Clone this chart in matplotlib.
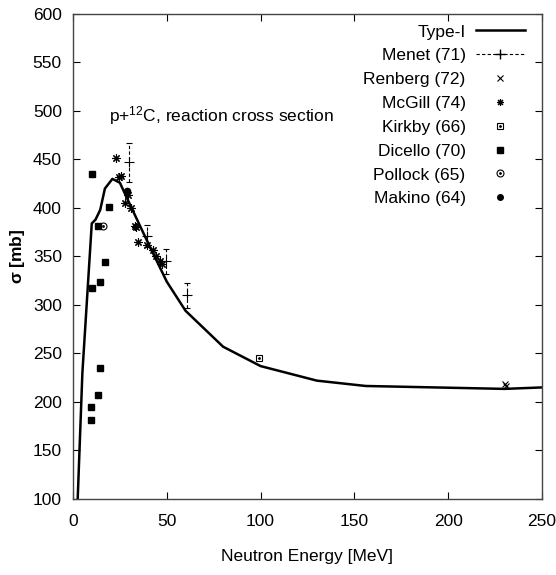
import matplotlib
matplotlib.use("Agg")
import matplotlib.pyplot as plt
from matplotlib.lines import Line2D

plt.rcParams['font.family'] = ['Liberation Sans', 'DejaVu Sans']

# Type-I model curve
type1_e = [2.5, 5, 10, 12, 14.5, 17, 21, 25, 30, 40, 50, 60, 80, 100, 130, 156, 230, 250]
type1_s = [100, 230, 384, 388, 398, 420, 430, 426, 405, 364, 324, 294, 257, 237, 222, 216.5, 213.5, 215]

# Menet (71) with errors
menet_e = [29.8, 39.6, 49.4, 60.6]
menet_s = [447, 371, 345, 310]
menet_err = [20, 11, 13, 13]

# Renberg (72)
renberg_e = [230.5, 230.8]
renberg_s = [219, 216]

# McGill (74)
mcgill_e = [22.9, 24.6, 25.8, 29.1, 27.7, 30.7, 33.0, 33.8, 34.8, 39.2, 42.6, 44.4, 46.2, 47.2]
mcgill_s = [452, 432, 433, 413, 405, 400, 381, 380, 365, 362, 357, 351, 345, 342]

# Kirkby (66)
kirkby_e = [99.1]
kirkby_s = [245]

# Dicello (70)
dicello_e = [10.3, 19.4, 13.5, 17.2, 14.6, 10.1, 14.6, 13.5, 9.8, 9.8]
dicello_s = [435, 401, 381, 344, 324, 318, 235, 207, 195, 181]

# Pollock (65)
pollock_e = [16.2]
pollock_s = [381]

# Makino (64)
makino_e = [28.6]
makino_s = [418]

fig = plt.figure(figsize=(5.56, 5.75), dpi=100)
ax = fig.add_axes([0.1313, 0.1322, 0.8435, 0.8435])

line_t, = ax.plot(type1_e, type1_s, color='black', lw=1.8)

eb = ax.errorbar(menet_e, menet_s, yerr=menet_err, fmt='+', color='black',
                 ms=7, mew=0.8, elinewidth=0.8, capsize=2.5)
eb[2][0].set_linestyle((0, (3, 2)))

ax.plot(renberg_e, renberg_s, 'x', color='black', ms=5, mew=0.8)
ax.plot(mcgill_e, mcgill_s, marker=(8, 2, 0), ls='none', color='black', ms=6, mew=0.8)
ax.plot(kirkby_e, kirkby_s, 's', mfc='none', mec='black', ms=5, mew=0.8)
ax.plot(kirkby_e, kirkby_s, '.', color='black', ms=2)
ax.plot(dicello_e, dicello_s, 's', color='black', ms=5)
ax.plot(pollock_e, pollock_s, 'o', mfc='none', mec='black', ms=5, mew=0.8)
ax.plot(pollock_e, pollock_s, '.', color='black', ms=2)
ax.plot(makino_e, makino_s, 'o', color='black', ms=4.5)

ax.set_xlim(0, 250)
ax.set_ylim(100, 600)
ax.set_xticks(range(0, 251, 50))
ax.set_yticks(range(100, 601, 50))
ax.tick_params(direction='in', length=5, width=0.8, top=True, right=True,
               labelsize=12.5)
ax.tick_params(axis='x', pad=11)
ax.tick_params(axis='y', pad=8)
for s in ax.spines.values():
    s.set_color('#444444')
    s.set_linewidth(1.0)

ax.set_xlabel('Neutron Energy [MeV]', fontsize=12.5, labelpad=14)
ax.set_ylabel(r'$\mathregular{\sigma}$ [mb]', fontsize=12.5, labelpad=4,
              fontweight='bold')

ax.text(0.077, 0.79, r'p+$\mathregular{^{12}}$C, reaction cross section',
        transform=ax.transAxes, fontsize=12.5, va='center', ha='left')

h_menet = Line2D([], [], color='black', ls=(0, (3, 2)), lw=0.8, marker='+', ms=7,
                 markevery=[1])
h_ren = Line2D([], [], ls='none', marker='x', color='black', ms=4, mew=0.8)
h_mcg = Line2D([], [], ls='none', marker=(8, 2, 0), color='black', ms=5, mew=0.8)
h_kir = (Line2D([], [], ls='none', marker='s', mfc='none', mec='black', ms=5, mew=0.8),
         Line2D([], [], ls='none', marker='.', color='black', ms=2))
h_dic = Line2D([], [], ls='none', marker='s', color='black', ms=5)
h_pol = (Line2D([], [], ls='none', marker='o', mfc='none', mec='black', ms=5, mew=0.8),
         Line2D([], [], ls='none', marker='.', color='black', ms=2))
h_mak = Line2D([], [], ls='none', marker='o', color='black', ms=4)

handles = [line_t, h_menet, h_ren, h_mcg, h_kir, h_dic, h_pol, h_mak]
labels = ['Type-I', 'Menet (71)', 'Renberg (72)', 'McGill (74)', 'Kirkby (66)',
          'Dicello (70)', 'Pollock (65)', 'Makino (64)']
leg = ax.legend(handles, labels, loc='upper right', bbox_to_anchor=(0.985, 1.0),
                frameon=False, markerfirst=False, fontsize=12.5, labelspacing=0.5,
                handlelength=2.8, handletextpad=0.6, borderaxespad=0.2)
for t in leg.get_texts():
    t.set_ha('right')

fig.savefig('out.png', dpi=100)
